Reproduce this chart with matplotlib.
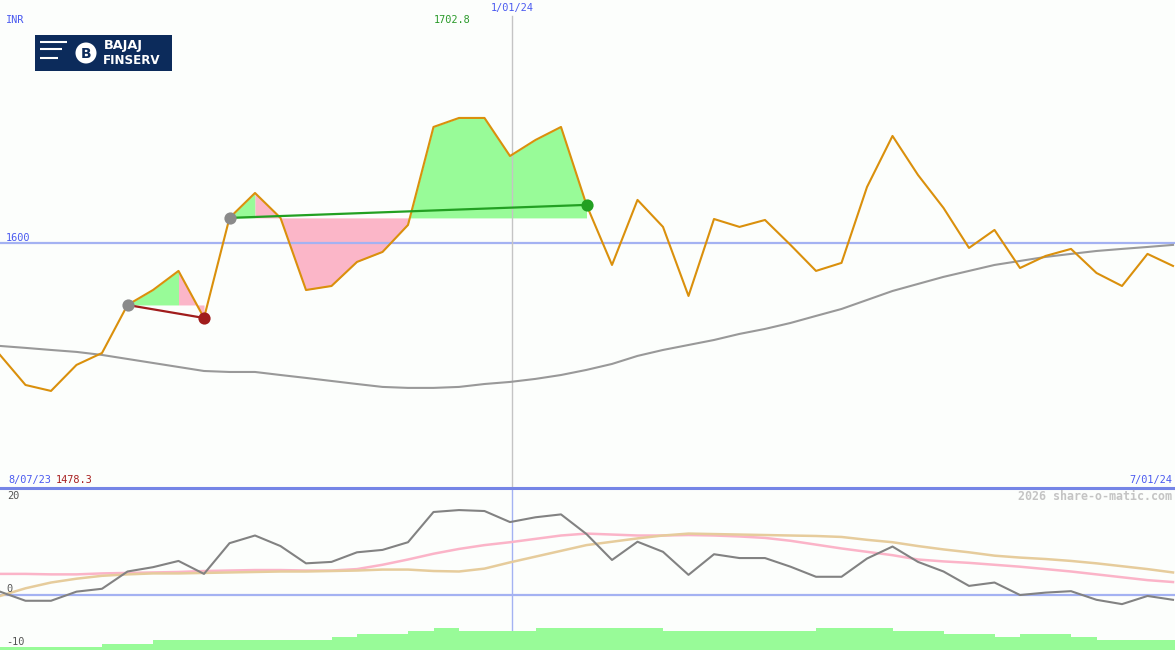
import matplotlib
matplotlib.use("Agg")
import matplotlib.pyplot as plt
from matplotlib.patches import Rectangle, Circle
import numpy as np

# ---------------- data ----------------
price = [1507.9, 1483.2, 1478.3, 1499.7, 1509.5, 1549.0, 1561.3, 1577.0, 1538.3, 1620.6,
         1641.1, 1620.6, 1561.3, 1564.6, 1584.4, 1592.6, 1614.8, 1695.4, 1702.8, 1702.8,
         1671.5, 1684.7, 1695.4, 1631.3, 1581.9, 1635.4, 1613.2, 1556.4, 1619.7, 1613.2,
         1618.9, 1598.4, 1577.0, 1583.6, 1646.0, 1688.0, 1655.9, 1628.8, 1595.9, 1610.7,
         1579.4, 1589.3, 1595.1, 1575.3, 1564.6, 1591.0, 1581.1]
ma_long = [1515.3, 1513.7, 1512.0, 1510.4, 1507.9, 1504.6, 1501.3, 1498.0, 1494.7, 1493.9,
           1493.9, 1491.4, 1489.0, 1486.5, 1484.0, 1481.6, 1480.8, 1480.8, 1481.6, 1484.0,
           1485.7, 1488.2, 1491.4, 1495.6, 1500.5, 1507.1, 1512.0, 1516.1, 1520.2, 1525.2,
           1529.3, 1534.2, 1540.0, 1545.7, 1553.1, 1560.5, 1566.3, 1572.1, 1577.0, 1581.9,
           1585.2, 1588.5, 1591.0, 1593.4, 1595.1, 1596.7, 1598.4]
osc = [0.7, -1.2, -1.2, 0.7, 1.3, 4.9, 5.8, 7.1, 4.4, 10.8,
       12.4, 10.2, 6.6, 6.9, 8.9, 9.4, 11.0, 17.3, 17.7, 17.5,
       15.2, 16.2, 16.8, 12.7, 7.3, 11.1, 9.0, 4.2, 8.5, 7.7,
       7.7, 5.9, 3.8, 3.8, 7.6, 10.1, 6.9, 4.9, 1.9, 2.6,
       0.0, 0.5, 0.8, -1.0, -1.9, -0.2, -1.0]
osc_pink = [4.4, 4.4, 4.3, 4.3, 4.5, 4.6, 4.7, 4.8, 5.0, 5.1,
            5.2, 5.2, 5.1, 5.1, 5.4, 6.3, 7.4, 8.6, 9.6, 10.4,
            11.0, 11.7, 12.4, 12.8, 12.6, 12.4, 12.4, 12.5, 12.4, 12.2,
            11.9, 11.3, 10.5, 9.7, 9.0, 8.3, 7.4, 7.0, 6.7, 6.3,
            5.9, 5.4, 4.9, 4.3, 3.7, 3.1, 2.7]
osc_tan = [-0.2, 1.4, 2.6, 3.4, 4.0, 4.3, 4.5, 4.5, 4.6, 4.7,
           4.8, 4.9, 4.9, 5.0, 5.1, 5.3, 5.3, 5.0, 4.9, 5.5,
           6.8, 8.0, 9.2, 10.4, 11.1, 11.8, 12.4, 12.8, 12.7, 12.6,
           12.5, 12.4, 12.3, 12.1, 11.5, 11.0, 10.2, 9.5, 8.9, 8.2,
           7.8, 7.5, 7.1, 6.6, 6.0, 5.4, 4.7]
vol_level = [1, 1, 1, 1, 2, 2, 3, 3, 3, 3, 3, 3, 3, 4, 5, 5, 6, 7, 6, 6,
             6, 7, 7, 7, 7, 7, 6, 6, 6, 6, 6, 6, 7, 7, 7, 6, 6, 5, 5, 4,
             5, 5, 4, 3, 3, 3, 3]
# trades: (entry index, exit index)
trades = [(5, 8), (9, 23)]
# shaded ranges: (from idx, to idx, reference entry idx, kind)
shades = [(5, 7, 5, 'up'), (7, 8, 5, 'down'),
          (9, 10, 9, 'up'), (10, 16, 9, 'down'), (16, 23, 9, 'up')]
start_label, mid_label, end_label = "8/07/23", "1/01/24", "7/01/24"
mid_idx = 20.08
ref_level = 1600
high_label, low_label = "1702.8", "1478.3"

# ---------------- figure ----------------
W, H = 1175, 650
BG = "#fcfefc"
fig = plt.figure(figsize=(W / 100, H / 100), dpi=100, facecolor=BG)
n = len(price)
x = np.arange(n)
xmax = W / 25.5

ax = fig.add_axes([0, 1 - 487 / H, 1, 487 / H])
ax.set_facecolor(BG)
ax.set_xlim(0, xmax)
ax.set_ylim(1399.3, 1799.8)
ax.axis('off')

ax2 = fig.add_axes([0, 0, 1, 162 / H])
ax2.set_facecolor(BG)
ax2.set_xlim(0, xmax)
ax2.set_ylim(-11.46, 22.3)
ax2.axis('off')

ax3 = ax2.twinx()
ax3.set_xlim(0, xmax)
ax3.set_ylim(0, 162)
ax3.axis('off')

GREEN_F = "#98fb98"
PINK_F = "#fbb6c8"
p = np.array(price)
for a, b, ref, kind in shades:
    xs = np.linspace(a, b, 200)
    ys = np.interp(xs, x, p)
    ax.fill_between(xs, ys, price[ref], color=GREEN_F if kind == 'up' else PINK_F,
                    lw=0, zorder=1)

ax.axhline(ref_level, color="#a4b2f2", lw=1.6, zorder=2)
ax.axvline(mid_idx, ymin=0, ymax=1 - 16 / 487, color="#c4c4c4", lw=1.0, zorder=2)
ax.plot(x, ma_long, color="#999999", lw=1.5, zorder=3)
ax.plot(x, price, color="#da900c", lw=1.5, zorder=4)

trade_cols = ["#a01c1c", "#22a022"]
for (e, q), c in zip(trades, trade_cols):
    ax.plot([e, q], [price[e], price[q]], color=c, lw=1.6, zorder=5)
    ax.plot([e], [price[e]], 'o', ms=8.8, color="#8a8a8a", mec='none', zorder=6)
    ax.plot([q], [price[q]], 'o', ms=8.8, color=c, mec='none', zorder=6)

# lower panel
ax2.axhline(0, color="#a4b2f2", lw=1.6, zorder=2)
ax2.axvline(mid_idx, ymin=20 / 162, ymax=1, color="#a4b2f2", lw=1.0, zorder=2)
ax3.bar(np.arange(len(vol_level)), np.array(vol_level) * 3.2, width=1.0, align='edge',
        color=GREEN_F, lw=0, zorder=1)
ax2.plot(x, osc_pink, color="#fbb4c8", lw=1.8, zorder=3)
ax2.plot(x, osc_tan, color="#e6cc9c", lw=1.8, zorder=3)
ax2.plot(x, osc, color="#828282", lw=1.5, zorder=4)

# overlay in pixel coords
ov = fig.add_axes([0, 0, 1, 1])
ov.set_xlim(0, W)
ov.set_ylim(H, 0)
ov.axis('off')
ov.patch.set_alpha(0)

ov.plot([0, W], [487.5, 487.5], color="#7585e6", lw=2.2)

mono = "DejaVu Sans Mono"
BLUE = "#4a5af0"
fs = 7.4
ov.text(6, 20, "INR", color=BLUE, fontsize=fs, family=mono, va='center')
ov.text(434, 20, high_label, color="#2a9a2a", fontsize=fs, family=mono, va='center')
ov.text(512, 8, mid_label, color=BLUE, fontsize=fs, family=mono, va='center', ha='center')
ov.text(6, 238, "1600", color=BLUE, fontsize=fs, family=mono, va='center')
ov.text(8, 480, start_label, color=BLUE, fontsize=fs, family=mono, va='center')
ov.text(56, 480, low_label, color="#a82020", fontsize=fs, family=mono, va='center')
ov.text(1172, 480, end_label, color=BLUE, fontsize=fs, family=mono, va='center', ha='right')
ov.text(1172, 496, "2026 share-o-matic.com", color="#c4c4c4", fontsize=8.4,
        family=mono, weight='bold', va='center', ha='right')
GR = "#555555"
ov.text(7, 496, "20", color=GR, fontsize=fs, family=mono, va='center')
ov.text(6, 589, "0", color=GR, fontsize=fs, family=mono, va='center')
ov.text(6, 642, "-10", color=GR, fontsize=fs, family=mono, va='center')

# logo
NAVY = "#0c2b5b"
ov.add_patch(Rectangle((35, 35), 137, 36, color=NAVY, lw=0))
for yy, x2 in [(41.5, 67), (48.5, 62), (57.5, 58)]:
    ov.plot([40, x2], [yy, yy], color="white", lw=1.5, solid_capstyle='butt')
ov.add_patch(Circle((86, 53), 10.5, color="white", lw=0))
ov.text(86.5, 53.5, "B", color=NAVY, fontsize=10, weight='bold', family="DejaVu Sans",
        ha='center', va='center')
ov.text(104, 46, "BAJAJ", color="white", fontsize=9.3, weight='bold', family="DejaVu Sans",
        va='center', ha='left')
ov.text(103, 60.5, "FINSERV", color="white", fontsize=8.6, weight='bold', family="DejaVu Sans",
        va='center', ha='left')

fig.savefig("out.png", dpi=100, facecolor=BG)
